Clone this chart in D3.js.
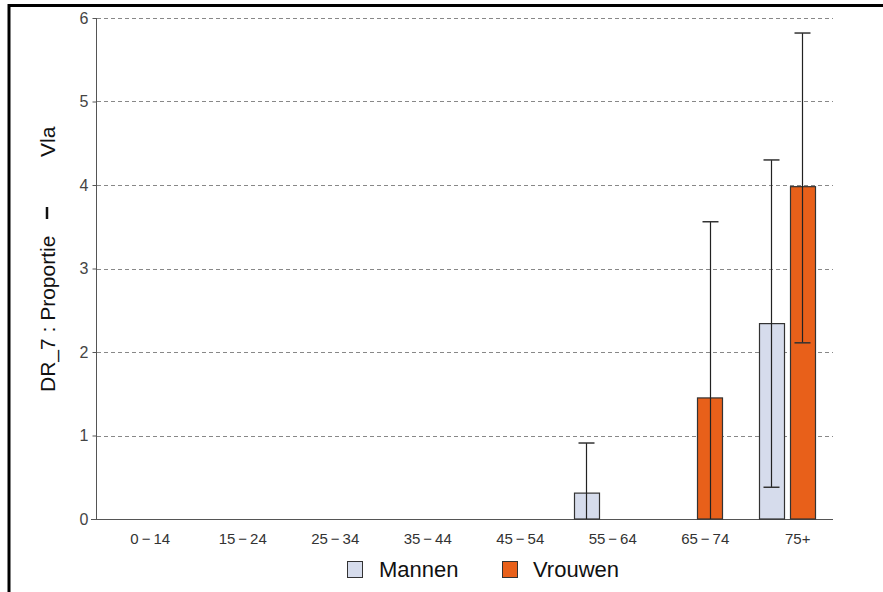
<!DOCTYPE html>
<html><head><meta charset="utf-8">
<script src="https://cdn.jsdelivr.net/npm/d3@7"></script>
<style>body{margin:0;background:#fff}svg{display:block;font-family:"Liberation Sans",Arial,sans-serif}</style>
</head><body>
<script>
const categories = ["0−14","15−24","25−34","35−44","45−54","55−64","65−74","75+"];
const seriesNames = ["Mannen","Vrouwen"];
const mannen      = [null,null,null,null,null,0.31,null,2.34];
const mannenLow   = [null,null,null,null,null,0,null,0.38];
const mannenHigh  = [null,null,null,null,null,0.91,null,4.30];
const vrouwen     = [null,null,null,null,null,null,1.45,3.98];
const vrouwenLow  = [null,null,null,null,null,null,0,2.11];
const vrouwenHigh = [null,null,null,null,null,null,3.56,5.82];
const yTicks = [0,1,2,3,4,5,6];
const colors = ["#D6DCEC","#E8601A"];

const W = 883, H = 592;
const svg = d3.select("body").append("svg").attr("width",W).attr("height",H);

// frame
svg.append("path").attr("d","M9,592 V5.5 H883").attr("fill","none").attr("stroke","#000").attr("stroke-width",3);

const x = d3.scaleBand().domain(categories).range([93,833]);
const y = d3.scaleLinear().domain([0,6]).range([519,18]);
const sub = d3.scaleBand().domain(seriesNames).range([-28,28]).paddingInner(0.18).paddingOuter(0);

// gridlines
svg.append("g").selectAll("line").data(yTicks.filter(d=>d>0)).join("line")
  .attr("x1",97).attr("x2",833).attr("y1",d=>Math.round(y(d))+0.5).attr("y2",d=>Math.round(y(d))+0.5)
  .attr("stroke","#888").attr("stroke-dasharray","4,3");

// y axis
const ya = svg.append("g").attr("transform","translate(96.5,0)")
  .call(d3.axisLeft(y).tickValues(yTicks).tickSize(4).tickFormat(d3.format("d")));
ya.select(".domain").attr("stroke","#555").attr("d","M0,"+y(6)+"V"+y(0));
ya.selectAll(".tick line").attr("stroke","#555");
ya.selectAll("text").attr("font-size",16).attr("fill","#444").attr("font-family","Liberation Sans, Arial, sans-serif").attr("dx",-1);

// x axis line
svg.append("line").attr("x1",91).attr("x2",833).attr("y1",519.5).attr("y2",519.5).attr("stroke","#555");

// x labels
svg.append("g").selectAll("text").data(categories).join("text")
  .attr("x",d=>x(d)+x.bandwidth()/2+11).attr("y",544).attr("text-anchor","middle")
  .attr("font-size",15).attr("fill","#333").text(d=>d.replace("−","\u2009−\u2009"));

// bars
const series = [
  {name:"Mannen", v:mannen, lo:mannenLow, hi:mannenHigh, c:colors[0]},
  {name:"Vrouwen", v:vrouwen, lo:vrouwenLow, hi:vrouwenHigh, c:colors[1]}
];
series.forEach(s=>{
  const data = categories.map((c,i)=>({c, v:s.v[i], lo:s.lo[i], hi:s.hi[i]})).filter(d=>d.v!=null);
  const g = svg.append("g");
  g.selectAll("rect").data(data).join("rect")
    .attr("x",d=>Math.round(x(d.c)+x.bandwidth()/2+sub(s.name))+0.5)
    .attr("width",Math.round(sub.bandwidth()))
    .attr("y",d=>y(d.v)).attr("height",d=>y(0)-y(d.v))
    .attr("fill",s.c).attr("stroke","#333").attr("stroke-width",1.2);
  const cx = d=>Math.round(x(d.c)+x.bandwidth()/2+sub(s.name)+sub.bandwidth()/2)+0.5;
  g.selectAll("line.v").data(data).join("line").attr("class","v")
    .attr("x1",cx).attr("x2",cx).attr("y1",d=>y(d.hi)).attr("y2",d=>y(d.lo))
    .attr("stroke","#222").attr("stroke-width",1.2);
  g.selectAll("line.hi").data(data).join("line").attr("class","hi")
    .attr("x1",d=>cx(d)-8).attr("x2",d=>cx(d)+8).attr("y1",d=>y(d.hi)).attr("y2",d=>y(d.hi))
    .attr("stroke","#333").attr("stroke-width",1.5);
  g.selectAll("line.lo").data(data.filter(d=>d.lo>0)).join("line").attr("class","lo")
    .attr("x1",d=>cx(d)-8).attr("x2",d=>cx(d)+8).attr("y1",d=>y(d.lo)).attr("y2",d=>y(d.lo))
    .attr("stroke","#333").attr("stroke-width",1.5);
});

// y title (rotated), pieces placed along the axis
const yt = svg.append("g").attr("transform","translate(55,0) rotate(-90)");
yt.append("text").attr("x",-392).attr("y",0).attr("font-size",21).attr("fill","#111").text("DR_7 : Proportie");
yt.append("line").attr("x1",-219).attr("x2",-207).attr("y1",-8).attr("y2",-8).attr("stroke","#111").attr("stroke-width",2.5);
yt.append("text").attr("x",-157).attr("y",0).attr("font-size",21).attr("fill","#111").text("Vla");

// legend
const legX = [347.5, 502.5], legTX = [379, 533];
seriesNames.forEach((n,i)=>{
  svg.append("rect").attr("x",legX[i]).attr("y",561.5).attr("width",15).attr("height",16)
    .attr("fill",colors[i]).attr("stroke","#333");
  svg.append("text").attr("x",legTX[i]).attr("y",577).attr("font-size",22).attr("fill","#111").text(n);
});
</script>
</body></html>
